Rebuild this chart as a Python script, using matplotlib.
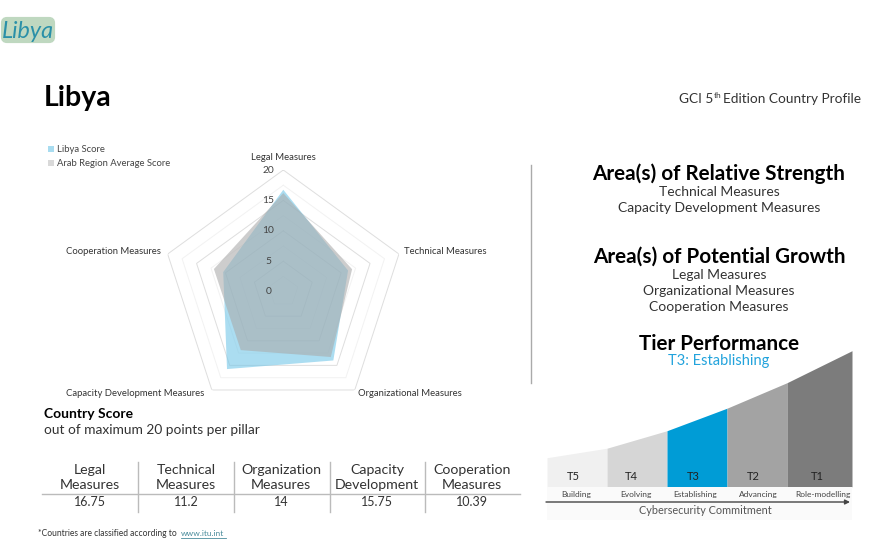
import numpy as np
import matplotlib
matplotlib.use("Agg")
import matplotlib.pyplot as plt
from matplotlib.patches import FancyBboxPatch

plt.rcParams['font.family'] = ['Lato', 'DejaVu Sans']

# Radar data
pillars = ["Legal Measures", "Technical Measures", "Organizational Measures",
           "Capacity Development Measures", "Cooperation Measures"]
libya_scores = [16.75, 11.2, 14, 15.75, 10.39]
arab_scores = [16.2, 11.9, 13.3, 11.9, 12.0]
ring_levels = [2.5, 5, 7.5, 10, 12.5, 15, 17.5, 20]
radial_labels = [0, 5, 10, 15, 20]

# Score table
table_heads = [("Legal", "Measures"), ("Technical", "Measures"), ("Organization", "Measures"),
               ("Capacity", "Development"), ("Cooperation", "Measures")]
table_values = ["16.75", "11.2", "14", "15.75", "10.39"]

# Text blocks
strength = ["Technical Measures", "Capacity Development Measures"]
growth = ["Legal Measures", "Organizational Measures", "Cooperation Measures"]

# Tier chart
tier_edges = [0, 60, 120, 180, 240, 305]
tier_heights = [29, 38.5, 56, 78.5, 104, 136]
tier_names = ["T5", "T4", "T3", "T2", "T1"]
tier_words = ["Building", "Evolving", "Establishing", "Advancing", "Role-modelling"]
tier_colors = ["#F0F0F0", "#D6D6D6", "#009CD6", "#A3A3A3", "#7C7C7C"]

W, H = 886, 559
fig = plt.figure(figsize=(W / 100, H / 100), dpi=100, facecolor="white")

# overlay in pixel coordinates for the page text
page = fig.add_axes([0, 0, 1, 1])
page.set_xlim(0, W)
page.set_ylim(H, 0)
page.axis("off")
page.set_zorder(5)

page.add_patch(FancyBboxPatch((3, 19), 50, 22, boxstyle="round,pad=0,rounding_size=4",
                              mutation_aspect=1, fc="#BFD8C0", ec="#BFD8C0", lw=3))
page.text(2, 31, "Libya", fontsize=16.8, style="italic", color="#2A90A8", va="center", ha="left")
page.text(44, 98, "Libya", fontsize=20.5, fontweight="bold", color="black", va="center")
page.text(861, 99, "Edition Country Profile", fontsize=9.8, color="#333333", va="center", ha="right")
page.text(713.5, 99, "GCI 5", fontsize=9.8, color="#333333", va="center", ha="right")
page.text(714, 95, "th", fontsize=6, color="#333333", va="center", ha="left")

# legend
page.add_patch(plt.Rectangle((48, 146), 6, 6, color="#A8DCF0", lw=0))
page.add_patch(plt.Rectangle((48, 160), 6, 6, color="#D9D9D9", lw=0))
page.text(57, 149, "Libya Score", fontsize=6.8, color="#444444", va="center")
page.text(57, 163, "Arab Region Average Score", fontsize=6.8, color="#444444", va="center")

# radar
cx, cy, R = 283.3, 291.6, 121.6
radar = fig.add_axes([(cx - R) / W, (H - cy - R) / H, 2 * R / W, 2 * R / H], projection="polar")
radar.set_theta_zero_location("N")
radar.set_theta_direction(-1)
radar.set_ylim(0, 20)
radar.axis("off")
radar.patch.set_alpha(0)

angles = np.linspace(0, 2 * np.pi, len(pillars), endpoint=False)
closed = np.append(angles, angles[0])
for i, lev in enumerate(ring_levels):
    col = "#DEDEDE" if i % 2 else "#F2F2F2"
    radar.plot(closed, [lev] * len(closed), color=col, lw=0.7, zorder=1)
radar.fill(closed, libya_scores + libya_scores[:1], color="#74C7E8", alpha=0.6, lw=0, zorder=2)
radar.fill(closed, arab_scores + arab_scores[:1], color="#AAAAAA", alpha=0.58, lw=0, zorder=3)
for v in radial_labels:
    radar.annotate(str(v), (0, v), xytext=(-15, 0), textcoords="offset pixels", fontsize=7.4,
                   color="#444444", ha="center", va="center", zorder=5, annotation_clip=False)

# pillar labels
page.text(283, 157, pillars[0], fontsize=6.8, color="#333333", ha="center", va="center")
page.text(404, 252, pillars[1], fontsize=6.8, color="#333333", ha="left", va="center")
page.text(358, 393, pillars[2], fontsize=6.8, color="#333333", ha="left", va="center")
page.text(204, 393, pillars[3], fontsize=6.8, color="#333333", ha="right", va="center")
page.text(161, 252, pillars[4], fontsize=6.8, color="#333333", ha="right", va="center")

# score section
page.text(44, 414, "Country Score", fontsize=10, fontweight="bold", color="black", va="center")
page.text(44, 430, "out of maximum 20 points per pillar", fontsize=9.95, color="#333333", va="center")

col_x = [90, 186, 281, 377, 472]
for x, (a, b), val in zip(col_x, table_heads, table_values):
    page.text(x, 470, a, fontsize=10.2, color="#333333", ha="center", va="center")
    page.text(x, 485, b, fontsize=10.2, color="#333333", ha="center", va="center")
    page.text(x, 502, val, fontsize=9, color="#333333", ha="center", va="center")
for x in [138, 234, 330, 425]:
    page.plot([x, x], [462, 512], color="#BBBBBB", lw=1)
page.plot([42, 520], [494, 494], color="#BBBBBB", lw=1)

page.text(38, 533, "*Countries are classified according to", fontsize=6.15, color="#333333", va="center")
page.text(181, 533, "www.itu.int", fontsize=6, color="#4A8C9C", va="center")
page.plot([181, 226], [537.5, 537.5], color="#4A8C9C", lw=0.6)

# divider
page.plot([531, 531], [165, 383], color="#AAAAAA", lw=1)

# right column
rx = 719
page.text(rx, 174, "Area(s) of Relative Strength", fontsize=14.9, fontweight="bold", color="black", ha="center", va="center")
for i, s in enumerate(strength):
    page.text(rx, 192 + i * 16, s, fontsize=10, color="#333333", ha="center", va="center")
page.text(rx, 257, "Area(s) of Potential Growth", fontsize=14.9, fontweight="bold", color="black", ha="center", va="center")
for i, s in enumerate(growth):
    page.text(rx, 275 + i * 16, s, fontsize=10, color="#333333", ha="center", va="center")
page.text(rx, 344, "Tier Performance", fontsize=14.9, fontweight="bold", color="black", ha="center", va="center")
page.text(rx, 361.5, "T3: Establishing", fontsize=10.5, color="#22A3DC", ha="center", va="center")

# tier chart
tier = fig.add_axes([547 / W, (H - 486.7) / H, 305 / W, 136 / H])
tier.set_xlim(0, 305)
tier.set_ylim(0, 136)
tier.axis("off")
for i in range(5):
    tier.fill_between(tier_edges[i:i + 2], 0, tier_heights[i:i + 2], color=tier_colors[i], lw=0)

name_x = [573, 631, 693, 753, 817]
word_x = [576, 636, 695, 758, 823]
for nx, wx, n, w in zip(name_x, word_x, tier_names, tier_words):
    page.text(nx, 476, n, fontsize=8, color="#222222", ha="center", va="center")
    page.text(wx, 494, w, fontsize=6, color="#444444", ha="center", va="center")
page.add_patch(plt.Rectangle((547, 487), 305, 33, color="#FAFAFA", lw=0, zorder=0))
page.annotate("", xy=(850, 502), xytext=(546, 502),
              arrowprops=dict(arrowstyle="-|>", color="#444444", lw=1, mutation_scale=7, shrinkA=0, shrinkB=0))
page.text(705, 511, "Cybersecurity Commitment", fontsize=7.8, color="#555555", ha="center", va="center")

fig.savefig("out.png", dpi=100)
